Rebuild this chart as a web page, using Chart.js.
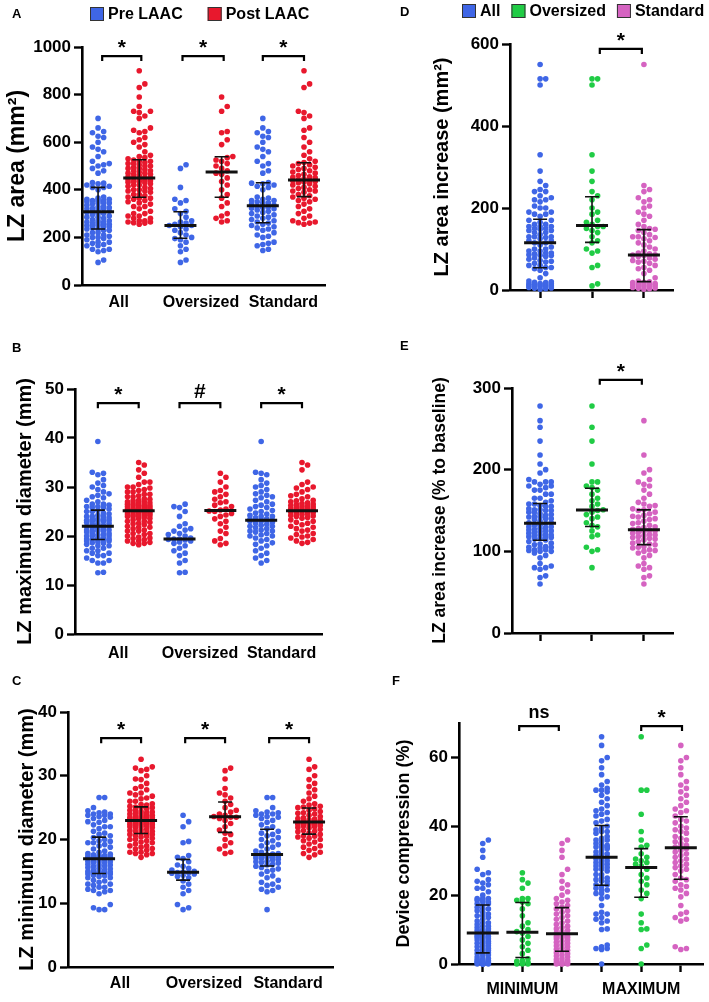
<!DOCTYPE html>
<html>
<head>
<meta charset="utf-8">
<script src="https://cdn.jsdelivr.net/npm/chart.js@4.4.0/dist/chart.umd.min.js"></script>
<style>
  body { margin: 0; background: #fff; }
  #wrap { position: relative; width: 709px; height: 1002px; overflow: hidden; }
  canvas { position: absolute; }
</style>
</head>
<body>
<div id="wrap">
  <canvas id="panelA" width="360" height="320" style="left:0;top:0"></canvas>
  <canvas id="panelB" width="360" height="345" style="left:0;top:320px"></canvas>
  <canvas id="panelC" width="360" height="352" style="left:0;top:650px"></canvas>
  <canvas id="panelD" width="349" height="320" style="left:360px;top:0"></canvas>
  <canvas id="panelE" width="349" height="340" style="left:360px;top:320px"></canvas>
  <canvas id="panelF" width="349" height="342" style="left:360px;top:660px"></canvas>
</div>
<script>
var BLUE = '#3f66e6';
var RED = '#e8182d';
var GREEN = '#20cc45';
var PINK = '#d563c1';
var FONT = "'Liberation Sans', Arial, Helvetica, sans-serif";

// ---- data (All = Oversized + Standard) ----
var groupLabels = ['All', 'Oversized', 'Standard'];
var phaseLabels = ['Pre LAAC', 'Post LAAC'];
var compressionLabels = ['MINIMUM', 'MAXIMUM'];

// A: LZ area (mm2)
var areaPreOversized = [95,105,140,150,165,180,190,195,200,210,220,230,235,245,250,250,255,260,265,270,285,300,310,320,345,355,360,410,490,505];
var areaPostOversized = [265,270,280,290,300,330,345,365,380,400,420,435,450,465,470,480,490,500,510,520,525,535,540,590,610,640,645,730,750,790];
var areaPreStandard = [145,150,165,170,175,180,200,205,210,220,230,235,240,245,250,255,260,265,270,275,280,285,290,295,300,305,310,315,320,322,325,328,330,335,340,345,345,350,355,355,360,365,370,400,410,415,420,425,428,430,470,480,500,510,520,540,560,570,580,600,620,625,640,645,660,700];
var areaPostStandard = [255,260,262,265,270,280,290,300,310,320,330,340,350,355,360,365,370,375,380,390,395,395,400,405,410,415,420,425,430,432,435,438,440,442,445,450,452,455,460,465,470,475,480,485,490,495,500,505,510,515,520,530,545,560,580,600,620,650,660,700,710,725,730,830,845,900];

// B: LZ maximum diameter (mm)
var maxPreOversized = [12.5,12.6,14.5,15,16,16.5,17,17.5,18,18.5,18.8,19,19.2,19.3,19.4,19.4,19.6,20,20.3,20.5,21,21.2,21.5,22,22.5,24,25,25.8,26,26.5];
var maxPostOversized = [18.2,18.5,19,19.5,20.5,21,21.8,22.5,23,23.5,24,24.3,24.6,25,25.1,25.3,25.5,26,26.3,26.8,27,27.5,28,28.5,29,29.3,30,31,32,32.8];
var maxPreStandard = [14.5,15,15.5,16,16.5,17,17.5,18,18.3,18.6,19,19.3,19.6,20,20,20.2,20.5,20.8,21,21,21.2,21.5,21.7,22,22,22.2,22.4,22.6,22.8,23,23,23.1,23.2,23.2,23.3,23.4,23.5,23.7,24,24,24.2,24.5,24.7,25,25.2,25.5,25.8,26,26.3,26.5,27,27.3,27.8,28,28.3,28.6,29,29.5,30,30.3,30.8,31.5,32.5,32.8,33,39.3];
var maxPostStandard = [18.5,18.7,19,19.3,19.6,19.8,20,20.3,20.5,21,21.2,21.5,21.8,22,22.3,22.6,22.8,23,23.3,23.6,23.8,24,24.1,24.2,24.4,24.5,24.6,24.8,24.9,25,25,25.1,25.1,25.2,25.2,25.3,25.3,25.4,25.5,25.6,25.6,25.8,25.9,26,26.1,26.2,26.4,26.5,26.6,26.8,27,27.2,27.3,27.6,28,28.2,28.5,29,29.5,29.8,30,30.5,31,33.5,34.5,35];

// C: LZ minimum diameter (mm)
var minPreOversized = [9,9.3,9.8,11.5,12,12.5,13,13.5,14,14.2,14.4,14.6,14.7,14.8,14.8,14.9,15,15.2,15.5,15.8,16,16.5,17,17.2,17.5,19.5,19.7,22,22.8,23.8];
var minPostOversized = [17.8,18,18.5,19,19.5,20,20.8,21,21.5,22,22.5,23,23.3,23.5,23.5,23.6,23.8,24,24.3,24.6,25,25.5,26,26.5,27,27.3,28,29.5,30.8,31.2];
var minPreStandard = [9,11.8,12,12.2,12.5,12.8,13,13.3,13.6,14,14.3,14.6,15,15.2,15.4,15.6,15.8,16,16.1,16.3,16.4,16.5,16.6,16.8,16.9,17,17.1,17.2,17.2,17.3,17.4,17.5,17.6,17.7,17.8,18,18.2,18.5,18.8,19,19.2,19.5,19.8,20,20.3,20.6,20.8,21,21.3,21.7,22,22.3,22.7,23,23.3,23.5,23.6,23.8,24,24,24.2,24.3,24.5,25,26.6,26.6];
var minPostStandard = [17.2,17.6,17.8,18,18.3,18.6,18.8,19,19.3,19.6,19.8,20,20.2,20.4,20.5,20.6,20.8,21,21.2,21.3,21.4,21.6,21.8,21.9,22,22.1,22.2,22.3,22.4,22.4,22.5,22.6,22.7,22.8,22.8,22.9,23,23.1,23.2,23.3,23.4,23.6,23.8,24,24.1,24.2,24.4,24.6,24.8,25,25.1,25.2,25.4,25.6,26,26.4,26.8,27.3,27.8,28.3,28.8,29.4,30,31,31.4,32.6];

// D: LZ area increase (mm2)
var incOversized = [10,15,55,60,90,95,100,115,120,130,140,145,150,155,155,160,165,170,185,190,200,220,230,240,265,290,330,500,515,515];
var incStandard = [2,3,4,5,6,8,9,10,11,12,13,14,15,16,18,19,20,22,30,40,48,52,55,60,65,68,70,72,75,78,82,84,85,86,88,90,95,100,105,110,115,120,125,128,130,130,135,140,145,148,150,155,160,170,180,185,190,200,205,215,220,225,240,245,255,550];

// E: LZ area increase (% to baseline)
var pctOversized = [80,100,102,105,118,120,125,130,132,135,140,142,145,148,150,151,155,158,162,165,170,175,178,180,185,185,207,235,252,278];
var pctStandard = [60,68,70,78,80,82,85,92,95,98,100,101,102,104,105,106,108,109,110,112,114,115,116,117,118,119,120,121,122,123,124,125,126,127,128,129,130,132,134,135,137,139,140,142,143,144,146,148,150,151,152,155,156,158,160,165,170,175,180,182,185,188,196,200,218,260];

// F: device compression (%)
var compMinOversized = [0,0,0,0.3,0.5,0.8,1,1.5,3,4,5,6,7,8,9,9.4,10,11,12,14,16,17.5,18,18.5,19,19,22,23.5,24.5,26.5];
var compMinStandard = [0,0,0,0,0.2,0.4,0.6,0.8,1,1.3,1.6,2,2.3,2.6,3,3.3,3.6,4,4.3,4.6,5,5.3,5.6,6,6.3,6.6,7,7.3,7.6,7.8,8,8.3,8.6,9,9.4,9.8,10.2,10.6,11,11.5,12,12.5,13,13.5,14,14.5,15,15.5,16,16.5,17,17.5,18,18.5,19,20,21,22,23,24,26,27.5,31,33,35,36];
var compMaxOversized = [0,4.5,5.5,10,10.2,12,14.5,19,20.5,21.5,23,24,25,26,27.5,28.5,29,29.5,30,30.5,31,32,34,34.5,36,38.5,43.5,50.5,50.5,66];
var compMaxStandard = [4.2,4.5,5,12.5,13,13.5,14.5,15,17,19.5,20.5,21.5,22,22.5,23,24,24.5,25,26,27,27.5,28,28.5,29,29.5,30,30.5,31,31.5,32,32.5,33,33.5,34,34,34.5,35,35.5,36,36.5,37,38,38.5,39,39.5,40,41,41.5,42,43,44,44.5,45,46,47,48,49,50,51,52,53,55,57,59,60,63.5];

// tick values
var areaTicks = [0, 200, 400, 600, 800, 1000];
var maxDiamTicks = [0, 10, 20, 30, 40, 50];
var minDiamTicks = [0, 10, 20, 30, 40];
var incTicks = [0, 200, 400, 600];
var pctTicks = [0, 100, 200, 300];
var compTicks = [0, 20, 40, 60];

Chart.defaults.font.family = FONT;
Chart.defaults.color = '#000';

function quantile(s, p) {
  var pos = (s.length - 1) * p, lo = Math.floor(pos), hi = Math.ceil(pos);
  return s[lo] + (s[hi] - s[lo]) * (pos - lo);
}
function summary(vals) {
  var s = vals.slice().sort(function (a, b) { return a - b; });
  return { q1: quantile(s, 0.25), med: quantile(s, 0.5), q3: quantile(s, 0.75) };
}

// deterministic beeswarm: returns horizontal offsets in px
function swarm(vals, yPx, maxOff) {
  var step = 5.6, minD = 5.6;
  var order = vals.map(function (v, i) { return i; }).sort(function (a, b) { return vals[a] - vals[b]; });
  var placed = [], out = [];
  var nSlots = 2 * Math.floor(maxOff / step);
  order.forEach(function (i) {
    var y = vals[i] * yPx, best = 0, bestScore = -1;
    for (var k = 0; k <= nSlots; k++) {
      var off = (k % 2 ? 1 : -1) * Math.ceil(k / 2) * step;
      var m = Infinity;
      for (var j = 0; j < placed.length; j++) {
        var dy = placed[j][1] - y;
        if (Math.abs(dy) < minD) m = Math.min(m, Math.hypot(placed[j][0] - off, dy));
      }
      if (m >= minD) { best = off; bestScore = Infinity; break; }
      if (m > bestScore) { bestScore = m; best = off; }
    }
    placed.push([best, y]);
    out[i] = best;
  });
  return out;
}

function overlayPlugin(p) {
  return {
    id: 'overlay',
    afterDatasetsDraw: function (chart) {
      var ctx = chart.ctx, xs = chart.scales.x, ys = chart.scales.y;
      ctx.save();
      // median + IQR
      p.groups.forEach(function (g) {
        var st = summary(g.values);
        var X = xs.getPixelForValue(g.x);
        ctx.strokeStyle = '#111';
        if (g.iqr !== false) {
          var y1 = ys.getPixelForValue(st.q1), y3 = ys.getPixelForValue(st.q3);
          ctx.lineWidth = 1.6;
          ctx.beginPath();
          ctx.moveTo(X, y1); ctx.lineTo(X, y3);
          ctx.moveTo(X - 7, y1); ctx.lineTo(X + 7, y1);
          ctx.moveTo(X - 7, y3); ctx.lineTo(X + 7, y3);
          ctx.stroke();
        }
        var ym = ys.getPixelForValue(st.med);
        ctx.lineWidth = 3;
        ctx.beginPath();
        ctx.moveTo(X - 16, ym); ctx.lineTo(X + 16, ym);
        ctx.stroke();
      });
      // significance brackets
      p.brackets.forEach(function (b) {
        var x1 = xs.getPixelForValue(b.x1), x2 = xs.getPixelForValue(b.x2), y = ys.getPixelForValue(b.y);
        ctx.strokeStyle = '#000';
        ctx.lineWidth = 2.2;
        ctx.beginPath();
        ctx.moveTo(x1, y + 5); ctx.lineTo(x1, y); ctx.lineTo(x2, y); ctx.lineTo(x2, y + 5);
        ctx.stroke();
        ctx.fillStyle = '#000';
        ctx.textAlign = 'center';
        ctx.textBaseline = 'alphabetic';
        ctx.font = 'bold ' + (b.text === 'ns' ? 18 : 21) + 'px ' + FONT;
        var lift = b.text === '*' ? 2 : (b.text === '#' ? 5 : 8);
        ctx.fillText(b.text, (x1 + x2) / 2, y - lift);
      });
      // panel letter
      ctx.fillStyle = '#000';
      ctx.font = 'bold 13px ' + FONT;
      ctx.textAlign = 'left';
      ctx.textBaseline = 'middle';
      ctx.fillText(p.letter, p.letterPos[0], p.letterPos[1]);
      // legend
      if (p.legend) {
        var lx = p.legend.x, ly = p.legend.y;
        ctx.font = 'bold 16px ' + FONT;
        p.series.forEach(function (s) {
          ctx.fillStyle = s.color;
          ctx.fillRect(lx, ly - 7, 14, 14);
          ctx.strokeStyle = '#333';
          ctx.lineWidth = 1;
          ctx.strokeRect(lx + 0.5, ly - 6.5, 13, 13);
          ctx.fillStyle = '#000';
          ctx.fillText(s.label, lx + 18, ly + 1);
          lx += 18 + ctx.measureText(s.label).width + p.legend.gap;
        });
      }
      ctx.restore();
    }
  };
}

function buildPanel(p) {
  var a = p.area;
  var xPx = (a.r - a.l) / (p.xMax - p.xMin);
  var yPx = (a.b - a.t) / p.yMax;
  var datasets = p.series.map(function (s) {
    return {
      label: s.label, data: [], backgroundColor: s.color, borderWidth: 0,
      pointRadius: 2.8, pointHoverRadius: 2.8, clip: false
    };
  });
  p.groups.forEach(function (g) {
    var offs = swarm(g.values, yPx, p.spread);
    g.values.forEach(function (v, i) {
      datasets[g.series].data.push({ x: g.x + offs[i] / xPx, y: v });
    });
  });
  new Chart(document.getElementById(p.id), {
    type: 'scatter',
    data: { datasets: datasets },
    options: {
      responsive: false,
      animation: false,
      events: [],
      devicePixelRatio: 1,
      layout: { padding: { left: 0, top: a.t, right: p.w - a.r, bottom: 0 } },
      plugins: { legend: { display: false }, tooltip: { enabled: false } },
      scales: {
        x: {
          type: 'linear', min: p.xMin, max: p.xMax,
          afterFit: function (s) { s.height = p.h - a.b; },
          afterBuildTicks: function (s) { s.ticks = p.xTicks.map(function (v) { return { value: v }; }); },
          ticks: {
            autoSkip: false, maxRotation: 0, padding: p.xPad,
            font: { size: 16, weight: 'bold' }, color: '#000',
            callback: function (v) { return p.xLabels[v] || ''; }
          },
          grid: { drawOnChartArea: false, drawTicks: p.xMarks, tickLength: 8, tickWidth: 2.4, tickColor: '#000' },
          border: { color: '#000', width: 2.6 }
        },
        y: {
          min: 0, max: p.yMax,
          afterFit: function (s) { s.width = a.l; },
          afterBuildTicks: function (s) { s.ticks = p.yTicks.map(function (v) { return { value: v }; }); },
          ticks: {
            padding: 3, font: { size: 17, weight: 'bold' }, color: '#000',
            callback: function (v) { return String(v); }
          },
          grid: { drawOnChartArea: false, drawTicks: true, tickLength: 8, tickWidth: 2.4, tickColor: '#000' },
          border: { color: '#000', width: 2.6 },
          title: {
            display: true, text: p.title, color: '#000',
            font: { size: p.titleSize, weight: 'bold', lineHeight: 1.2 },
            padding: { top: p.titlePad, bottom: 0 }
          }
        }
      }
    },
    plugins: [overlayPlugin(p)]
  });
}

var prePost = [
  { label: phaseLabels[0], color: BLUE },
  { label: phaseLabels[1], color: RED }
];
var cohorts = [
  { label: groupLabels[0], color: BLUE },
  { label: groupLabels[1], color: GREEN },
  { label: groupLabels[2], color: PINK }
];
var pairLabels = { 0.5: groupLabels[0], 2.5: groupLabels[1], 4.5: groupLabels[2] };

// order: All pre, All post, Oversized pre, Oversized post, Standard pre, Standard post
function prePostGroups(preO, postO, preS, postS, iqrMask) {
  var vals = [preO.concat(preS), postO.concat(postS), preO, postO, preS, postS];
  return vals.map(function (v, i) {
    return { x: i, series: i % 2, values: v, iqr: iqrMask ? iqrMask[i] : true };
  });
}

buildPanel({
  id: 'panelA', w: 360, h: 320, area: { l: 82, t: 47, r: 325, b: 285 },
  xMin: -0.39, xMax: 5.51, yMax: 1000, yTicks: areaTicks,
  xTicks: [0.5, 2.5, 4.5], xLabels: pairLabels, xPad: 8, xMarks: false,
  title: 'LZ area (mm²)', titleSize: 23, titlePad: 4,
  series: prePost, spread: 14,
  groups: prePostGroups(areaPreOversized, areaPostOversized, areaPreStandard, areaPostStandard),
  brackets: [
    { x1: 0.1, x2: 1.05, y: 962, text: '*' },
    { x1: 2.05, x2: 3.05, y: 962, text: '*' },
    { x1: 4, x2: 5, y: 962, text: '*' }
  ],
  letter: 'A', letterPos: [12, 14], legend: { x: 90, y: 14, gap: 25 }
});

buildPanel({
  id: 'panelB', w: 360, h: 345, area: { l: 75, t: 69, r: 322, b: 314 },
  xMin: -0.56, xMax: 5.49, yMax: 50, yTicks: maxDiamTicks,
  xTicks: [0.5, 2.5, 4.5], xLabels: pairLabels, xPad: 10, xMarks: false,
  title: 'LZ maximum diameter (mm)', titleSize: 20, titlePad: 13,
  series: prePost, spread: 13,
  groups: prePostGroups(maxPreOversized, maxPostOversized, maxPreStandard, maxPostStandard,
    [true, false, false, false, false, false]),
  brackets: [
    { x1: 0, x2: 1, y: 47.1, text: '*' },
    { x1: 2, x2: 3, y: 47.1, text: '#' },
    { x1: 4, x2: 5, y: 47.1, text: '*' }
  ],
  letter: 'B', letterPos: [12, 28]
});

buildPanel({
  id: 'panelC', w: 360, h: 352, area: { l: 68, t: 62, r: 333, b: 317 },
  xMin: -0.74, xMax: 5.57, yMax: 40, yTicks: minDiamTicks,
  xTicks: [0.5, 2.5, 4.5], xLabels: pairLabels, xPad: 7, xMarks: false,
  title: 'LZ minimum diameter (mm)', titleSize: 20, titlePad: 15,
  series: prePost, spread: 14,
  groups: prePostGroups(minPreOversized, minPostOversized, minPreStandard, minPostStandard),
  brackets: [
    { x1: 0.05, x2: 1, y: 35.9, text: '*' },
    { x1: 2.05, x2: 3, y: 35.9, text: '*' },
    { x1: 4.05, x2: 5, y: 35.9, text: '*' }
  ],
  letter: 'C', letterPos: [12, 31]
});

buildPanel({
  id: 'panelD', w: 349, h: 320, area: { l: 150, t: 44, r: 313, b: 290 },
  xMin: -0.58, xMax: 2.56, yMax: 600, yTicks: incTicks,
  xTicks: [0, 1, 2], xLabels: {}, xPad: 0, xMarks: true,
  title: 'LZ area increase (mm²)', titleSize: 20, titlePad: 70,
  series: cohorts, spread: 16,
  groups: [
    { x: 0, series: 0, values: incOversized.concat(incStandard) },
    { x: 1, series: 1, values: incOversized },
    { x: 2, series: 2, values: incStandard }
  ],
  brackets: [{ x1: 1.15, x2: 1.96, y: 588, text: '*' }],
  letter: 'D', letterPos: [40, 12], legend: { x: 102, y: 11, gap: 11 }
});

buildPanel({
  id: 'panelE', w: 349, h: 340, area: { l: 152, t: 68, r: 313, b: 313 },
  xMin: -0.54, xMax: 2.56, yMax: 300, yTicks: pctTicks,
  xTicks: [0, 1, 2], xLabels: {}, xPad: 0, xMarks: true,
  title: 'LZ area increase (% to baseline)', titleSize: 17.5, titlePad: 70,
  series: cohorts, spread: 16,
  groups: [
    { x: 0, series: 0, values: pctOversized.concat(pctStandard) },
    { x: 1, series: 1, values: pctOversized },
    { x: 2, series: 2, values: pctStandard }
  ],
  brackets: [{ x1: 1.15, x2: 1.96, y: 310, text: '*' }],
  letter: 'E', letterPos: [40, 26]
});

buildPanel({
  id: 'panelF', w: 349, h: 342, area: { l: 99, t: 63, r: 343, b: 304 },
  xMin: -0.6, xMax: 5.56, yMax: 70, yTicks: compTicks,
  xTicks: [0, 1, 2, 3, 4, 5], xLabels: { 1: compressionLabels[0], 4: compressionLabels[1] }, xPad: 8, xMarks: true,
  title: 'Device compression (%)', titleSize: 18, titlePad: 33,
  series: cohorts, spread: 11,
  groups: [
    { x: 0, series: 0, values: compMinOversized.concat(compMinStandard) },
    { x: 1, series: 1, values: compMinOversized },
    { x: 2, series: 2, values: compMinStandard },
    { x: 3, series: 0, values: compMaxOversized.concat(compMaxStandard) },
    { x: 4, series: 1, values: compMaxOversized },
    { x: 5, series: 2, values: compMaxStandard }
  ],
  brackets: [
    { x1: 0.92, x2: 1.92, y: 69.1, text: 'ns' },
    { x1: 4, x2: 5.03, y: 69.1, text: '*' }
  ],
  letter: 'F', letterPos: [32, 21]
});
</script>
</body>
</html>
